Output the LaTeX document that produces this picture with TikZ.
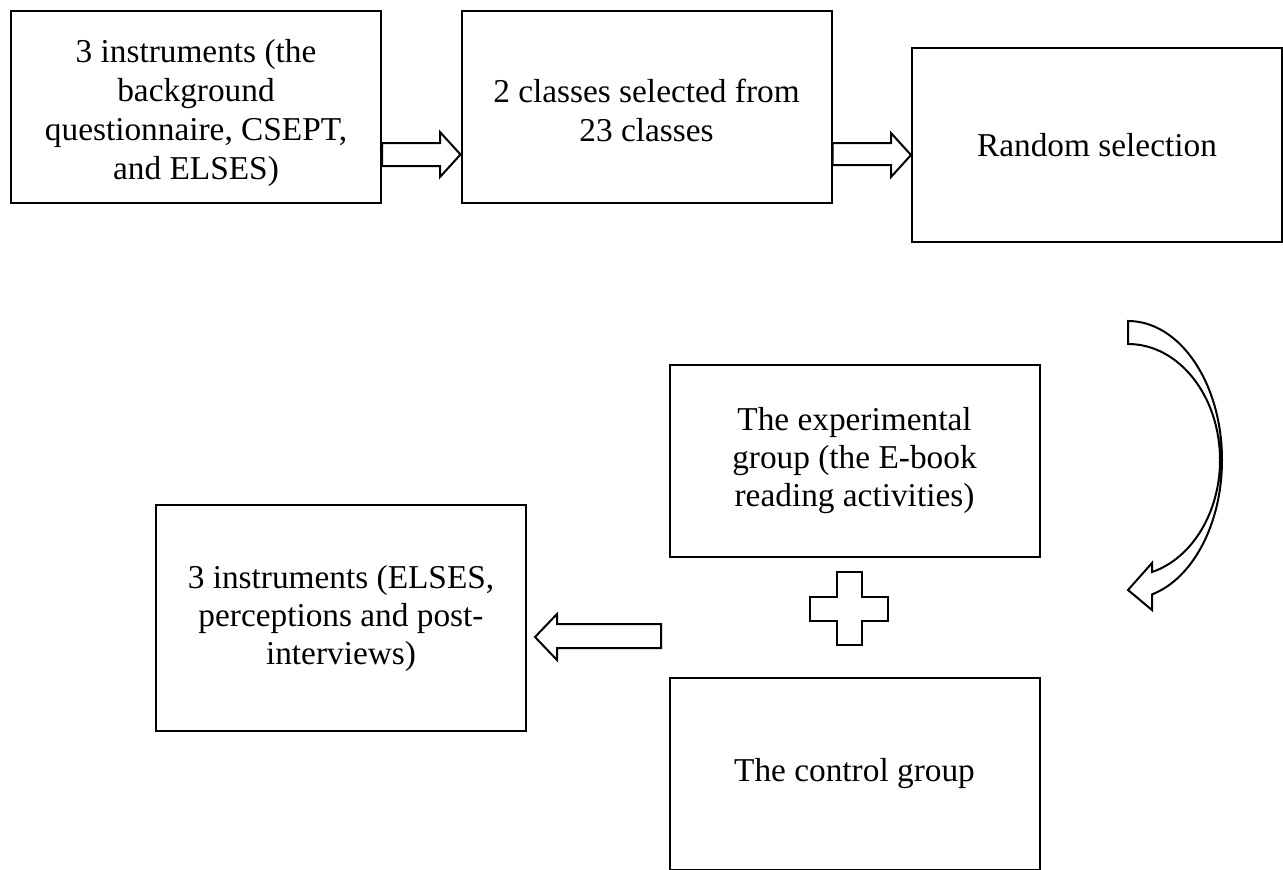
\documentclass[tikz,border=0pt]{standalone}
\usepackage{fontspec}
\setmainfont{Liberation Serif}
\tikzset{
  box/.style={draw, line width=1.5pt, minimum width=277.5pt, minimum height=144pt,
    align=center, inner sep=0pt, font=\fontsize{25}{28.5}\selectfont},
  boxtext/.style={align=center, inner sep=0pt, font=\fontsize{25}{29.25}\selectfont},
  blockarrow/.style={draw, line width=1.5pt, line join=miter, fill=white}
}
\begin{document}
\begin{tikzpicture}[x=0.75pt, y=-0.75pt]
  \fill[white] (0,0) rectangle (1283,869);
  \useasboundingbox (0,0) rectangle (1283,869);

  % top row
  \node[box] (inst1) at (196,107) {};
  \node[boxtext] (inst1text) at (196,113) {3 instruments (the\\background\\questionnaire, CSEPT,\\and ELSES)};
  \node[box] (classes) at (646.5,107) {};
  \node[boxtext] (classestext) at (646.5,110) {2 classes selected from\\23 classes};
  \node[box, minimum height=145.5pt] (random) at (1097,145) {Random selection};

  % bottom
  \node[box] (exp) at (854.5,461) {The experimental\\group (the E-book\\reading activities)};
  \node[box, minimum height=169.5pt] (inst2) at (341,618) {3 instruments (ELSES,\\perceptions and post-\\interviews)};
  \begin{scope}
    \clip (0,0) rectangle (1283,869);
    \node[box] (ctrl) at (854.5,774) {The control group};
  \end{scope}

  % block arrow: inst1 -> classes
  \draw[blockarrow] (inst1.east |- 0,143) -- (440,143) -- (440,132)
    -- (classes.west |- 0,154.5) -- (440,177) -- (440,166)
    -- (inst1.east |- 0,166) -- cycle;
  % block arrow: classes -> random
  \draw[blockarrow] (classes.east |- 0,143) -- (891,143) -- (891,133)
    -- (random.west |- 0,155) -- (891,177) -- (891,165)
    -- (classes.east |- 0,165) -- cycle;
  % block arrow: groups -> inst2
  \draw[blockarrow] (661,624) -- (557,624) -- (557,614)
    -- ([xshift=6pt]inst2.east |- 0,637) -- (557,660) -- (557,648)
    -- (661,648) -- cycle;

  % plus sign between groups
  \draw[blockarrow] (837,572) -- (862,572) -- (862,597) -- (888,597)
    -- (888,621) -- (862,621) -- (862,645) -- (837,645) -- (837,621)
    -- (810,621) -- (810,597) -- (837,597) -- cycle;

  % curved arrow from random selection down to the groups
  \draw[blockarrow] (1128,321) -- (1128,344)
    .. controls (1178.8,344) and (1220,395.9) .. (1220,460)
    .. controls (1220,512.4) and (1192.1,558.3) .. (1152,572)
    -- (1152,563) -- (1128,590) -- (1152,610) -- (1152,594.4)
    .. controls (1193.3,578.3) and (1222,523.1) .. (1222,460)
    .. controls (1222,383.2) and (1179.9,321) .. (1128,321) -- cycle;
\end{tikzpicture}
\end{document}
